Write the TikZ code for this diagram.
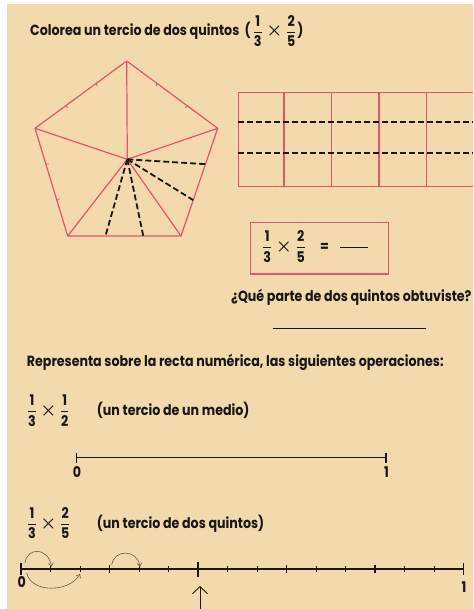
\documentclass[tikz,border=0pt]{standalone}
\usepackage{amsmath}
\usepackage{fontspec}
\setmainfont{Poppins}[FakeStretch=0.86]
\usetikzlibrary{arrows.meta,calc}
\definecolor{paper}{RGB}{242,218,172}
\definecolor{pinkline}{RGB}{232,82,108}
\definecolor{ink}{RGB}{25,22,20}
\definecolor{pencil}{RGB}{105,90,72}
\newcommand{\fr}[2]{$\genfrac{}{}{1pt}{0}{\text{#1}}{\text{#2}}$}
\newcommand{\tms}{\hspace{3.5pt}\scalebox{1.25}{$\boldsymbol{\times}$}\hspace{3.5pt}}
\begin{document}
\begin{tikzpicture}[x=1pt,y=-1pt,
  txt/.style={font=\fontsize{14.7}{17}\bfseries\selectfont, text=ink, inner sep=0pt},
  redline/.style={draw=pinkline, line width=1.2pt},
  blackdash/.style={draw=ink, line width=1.8pt, dash pattern=on 6pt off 3pt},
  tickline/.style={draw=ink, line width=1.2pt},
  pencilarrow/.style={draw=pencil, line width=0.6pt, -{Straight Barb[length=3pt,width=5pt]}}
]
\useasboundingbox (0,0) rectangle (473,609);
\fill[white] (0,0) rectangle (473,609);
\fill[paper] (7,4) rectangle (473,609);

% title
\node[txt, anchor=base west] (title) at (30,36) {Colorea un tercio de dos quintos \ (\hspace{2pt}\fr{1}{3}\tms\fr{2}{5}\hspace{1pt})};

% pentagon
\coordinate (pT) at (126.7,61);
\coordinate (pL) at (35,128.3);
\coordinate (pR) at (217.7,128.3);
\coordinate (pBL) at (67.7,236);
\coordinate (pBR) at (181,236);
\coordinate (pC) at (127.3,159.3);
\draw[redline, line join=round] (pT) -- (pR) -- (pBR) -- (pBL) -- (pL) -- cycle;
\foreach \v in {pT,pR,pBR,pBL,pL} \draw[redline] (pC) -- (\v);
% small thirds marks
\foreach \a/\b in {pL/pT, pT/pR, pL/pBL} {
  \foreach \f in {0.333,0.667} {
    \coordinate (m) at ($(\a)!\f!(\b)$);
    \draw[draw=pinkline, line width=0.8pt] (m) -- ($(m)!3pt!(pC)$);
  }
}
% dashed thirds of the shaded fifths
\coordinate (d1) at ($(pR)!0.333!(pBR)$);
\coordinate (d2) at ($(pR)!0.667!(pBR)$);
\coordinate (d3) at ($(pBL)!0.333!(pBR)$);
\coordinate (d4) at ($(pBL)!0.667!(pBR)$);
\foreach \d in {d1,d2,d3,d4} \draw[blackdash] (pC) -- (\d);

% rectangle of fifths
\coordinate (rTL) at (238.3,92.3);
\coordinate (rBL) at (238.3,186.7);
\coordinate (rTR) at (473,92.3);
\coordinate (rBR) at (473,186.7);
\draw[redline] (rTR) -- (rTL) -- (rBL) -- (rBR);
\foreach \x in {284,331.7,379,426.7} \draw[redline] (\x,92.3) -- (\x,186.7);
\coordinate (h1a) at (238.3,122.3); \coordinate (h1b) at (473,122.3);
\coordinate (h2a) at (238.3,153.3); \coordinate (h2b) at (473,153.3);
\draw[blackdash] (h1a) -- (h1b);
\draw[blackdash] (h2a) -- (h2b);

% equation box
\draw[redline] (250.7,222.7) rectangle (388.3,274);
\node[txt, anchor=base west] (eq) at (262,251.5) {\fr{1}{3}\tms\fr{2}{5}};
\node[txt, anchor=base west] (eqsign) at (320,251.5) {=};
\coordinate (blankA) at (340,247.3);
\coordinate (blankB) at (368,247.3);
\draw[ink, line width=1.3pt] (blankA) -- (blankB);

% question
\node[txt, anchor=base west] (q) at (231,301) {¿Qué parte de dos quintos obtuviste?};
\coordinate (ansA) at (272.7,328.3);
\coordinate (ansB) at (426,328.3);
\draw[ink, line width=1.3pt] (ansA) -- (ansB);

% second part
\node[txt, anchor=base west] (rep) at (26.7,366.5) {Representa sobre la recta numérica, las siguientes operaciones:};

\node[txt, anchor=base west] (e1) at (26.7,415.5) {\fr{1}{3}\tms\fr{1}{2}};
\node[txt, anchor=base west] (e1t) at (96.7,415.5) {(un tercio de un medio)};

% number line 1
\coordinate (a0) at (76.7,457.7);
\coordinate (a1) at (386,457.7);
\draw[ink, line width=1.3pt] (a0) -- (a1);
\draw[tickline] ($(a0)+(0,-5)$) -- ($(a0)+(0,5)$);
\draw[tickline] ($(a1)+(0,-5)$) -- ($(a1)+(0,5)$);
\node[txt] (l0a) at (77,472) {0};
\node[txt] (l1a) at (386.5,472) {1};

\node[txt, anchor=base west] (e2) at (26.7,528) {\fr{1}{3}\tms\fr{2}{5}};
\node[txt, anchor=base west] (e2t) at (96.7,528) {(un tercio de dos quintos)};

% number line 2
\coordinate (b0) at (21,569);
\coordinate (b1) at (463.5,569);
\draw[ink, line width=1.3pt] (b0) -- (b1);
\foreach \i in {1,...,14} {
  \coordinate (t\i) at ($(b0)!\i/15!(b1)$);
  \draw[ink, line width=1pt] ($(t\i)+(0,-2.7)$) -- ($(t\i)+(0,2.7)$);
}
\foreach \i in {3,9,12} \draw[ink, line width=1.8pt] ($(t\i)+(0,-4)$) -- ($(t\i)+(0,4)$);
\draw[ink, line width=1.8pt] ($(t6)+(0,-7.5)$) -- ($(t6)+(0,8)$);
\draw[tickline] ($(b0)+(0,-6)$) -- ($(b0)+(0,6)$);
\draw[tickline] ($(b1)+(0,-6)$) -- ($(b1)+(0,6)$);
\node[txt] (l0b) at (21.7,582) {0};
\node[txt] (l1b) at (464,587) {1};

% pencil hops
\coordinate (c1s) at (25,563);   \coordinate (c1e) at (51.5,566.5);
\coordinate (c2s) at (26.7,573); \coordinate (c2e) at (80,574);
\coordinate (c3s) at (111.7,565);\coordinate (c3e) at (140,566.5);
\draw[pencilarrow] (c1s) .. controls (27,547) and (48,547) .. (c1e);
\draw[pencilarrow] (c2s) .. controls (32,594) and (70,592) .. (c2e);
\draw[pencilarrow] (c3s) .. controls (114,549) and (137,549) .. (c3e);

% arrow to the answer
\coordinate (arrS) at (200,609);
\coordinate (arrE) at (200,586);
\draw[ink, line width=0.9pt, -{Straight Barb[length=7pt,width=15pt]}] (arrS) -- (arrE);
\end{tikzpicture}
\end{document}
